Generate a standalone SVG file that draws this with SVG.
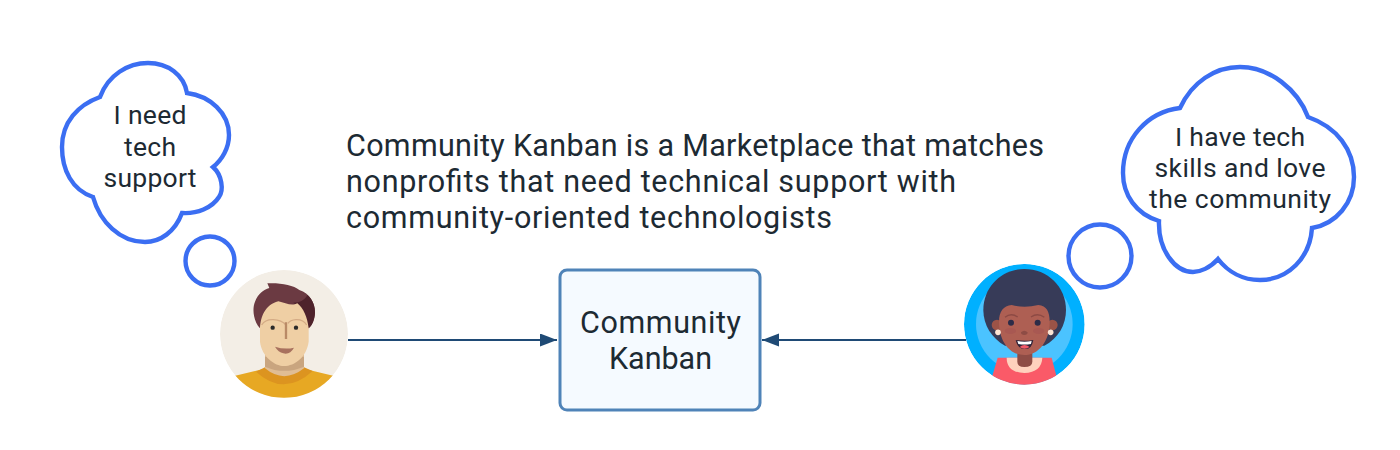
<svg xmlns="http://www.w3.org/2000/svg" width="1400" height="450" viewBox="0 0 1400 450">
<style>
text{font-family:"Roboto","Noto Sans","DejaVu Sans",sans-serif;fill:#1d2a33}
.m{font-size:30.5px}
.c{font-size:26.5px;text-anchor:middle}
.b{font-size:30.5px;text-anchor:middle}
.cloud{fill:#fff;stroke:#3b6ef2;stroke-width:4.4}
.conn{stroke:#1f4a75;stroke-width:2;fill:none}
</style>
<defs>
<marker id="ah" markerUnits="userSpaceOnUse" markerWidth="18" markerHeight="14" refX="17" refY="6.5" orient="auto"><path d="M0,0L17,6.5L0,13Z" fill="#1f4a75"/></marker>
<clipPath id="c1"><circle cx="222" cy="222" r="192"/></clipPath>
<clipPath id="c1b"><rect x="0" y="0" width="450" height="413"/></clipPath>
<clipPath id="c2"><circle cx="208" cy="208" r="181"/></clipPath>
</defs>
<g id="title">
<text class="m" x="346" y="156" textLength="698">Community Kanban is a Marketplace that matches</text>
<text class="m" x="346" y="192" textLength="610">nonprofits that need technical support with</text>
<text class="m" x="346" y="228" textLength="486">community-oriented technologists</text>
</g>
<g id="connectors">
<path class="conn" d="M348,340H557" marker-end="url(#ah)"/>
<path class="conn" d="M966,340H762" marker-end="url(#ah)"/>
</g>
<g id="cloud-left">
<path class="cloud" d="M100,97C108,75 128,63 148,63C168,63 184,75 187,93C210,96 229,113 229,135C229,148 222,160 213,167C222,175 224,190 219,197C212,208 197,214 182,213C175,232 160,242 145,242C120,242 100,222 93,197C72,190 62,170 62,147C62,122 78,105 100,97Z"/>
<circle class="cloud" cx="210" cy="261" r="24.5"/>
<text class="c" x="150" y="124" textLength="73">I need</text>
<text class="c" x="150" y="156" textLength="52">tech</text>
<text class="c" x="150" y="187" textLength="93">support</text>
</g>
<g id="cloud-right">
<path class="cloud" d="M1180,108C1192,82 1215,67 1240,67C1270,67 1298,90 1308,117C1337,127 1354,150 1354,177C1354,203 1336,224 1312,228C1310,258 1288,280 1260,280C1243,280 1228,272 1218,259C1210,268 1200,272 1193,272C1175,272 1158,250 1159,221C1136,214 1123,195 1123,173C1123,138 1148,112 1180,108Z"/>
<circle class="cloud" cx="1100" cy="256" r="31.5"/>
<text class="c" x="1240" y="146" textLength="130">I have tech</text>
<text class="c" x="1240" y="177" textLength="171">skills and love</text>
<text class="c" x="1240" y="208" textLength="182">the community</text>
</g>
<g id="community-kanban">
<rect x="560" y="270" width="200" height="140" rx="7" fill="#f5faff" stroke="#4f83b8" stroke-width="3"/>
<text class="b" x="660.5" y="333" textLength="161">Community</text>
<text class="b" x="660.5" y="369" textLength="103">Kanban</text>
</g>
<g id="person-left" transform="translate(210 260) scale(.3333)">
<g clip-path="url(#c1b)"><g clip-path="url(#c1)">
<circle cx="222" cy="222" r="192" fill="#f3eee6"/>
<path d="M60,351L160,327H285L385,351V420H60Z" fill="#e7a823"/>
<path d="M138,335Q222,412 308,333L282,322H165Z" fill="#dc9420"/>
<path d="M165,280V325Q222,372 282,325V280Z" fill="#e0bd94"/>
<path d="M165,290V320Q222,345 282,320V290Z" fill="#c9a57f"/>
<path d="M150,205C132,185 125,150 135,125C145,100 160,90 178,84L172,70C210,68 250,75 268,90C300,100 316,130 315,160C313,180 308,195 296,205Z" fill="#6b3a42"/>
<path d="M250,128C270,128 285,120 292,105C308,118 316,140 315,160C313,180 308,195 296,205L280,150Z" fill="#4e222b"/>
<path d="M150,205C152,170 165,135 205,124C225,128 245,140 262,130C280,145 292,170 296,205V245C290,290 255,318 222,318C195,318 155,290 150,245Z" fill="#efcfa4"/>
<g fill="none" stroke="#d4ab85" stroke-width="4"><path d="M155,195Q165,178 190,179Q215,180 228,195"/><path d="M290,195Q280,178 258,179Q240,180 234,190"/></g>
<path d="M228,187V237" stroke="#b98a66" stroke-width="7"/>
<circle cx="188" cy="203" r="6.5" fill="#2a2a2a"/><circle cx="258" cy="203" r="6.5" fill="#2a2a2a"/>
<path d="M195,260Q225,270 252,263Q240,285 220,280Q205,277 195,260Z" fill="#a8715e"/>
</g></g>
</g>
<g id="person-right" transform="translate(955 255) scale(.3333)">
<g clip-path="url(#c2)">
<circle cx="208" cy="208" r="181" fill="#00b0ff"/>
<circle cx="208" cy="207" r="145" fill="#4bc3ff"/>
<path d="M150,272C110,250 85,210 85,165C85,95 140,42 208,42C278,42 333,95 333,165C333,210 310,250 268,272Z" fill="#373b58"/>
<circle cx="126" cy="210" r="16" fill="#9c5347"/><circle cx="292" cy="210" r="16" fill="#9c5347"/>
<path d="M110,370L128,308H290L306,370L208,400Z" fill="#fa5a68"/>
<path d="M155,308Q155,352 208,354Q260,352 262,308Z" fill="#ffd1bd"/>
<path d="M187,290V320Q187,336 208,336Q232,336 232,320V290Z" fill="#8e4c45"/>
<path d="M132,200C132,170 145,152 170,150Q208,160 250,150C275,152 284,170 284,200C284,260 250,300 208,300C165,300 132,260 132,200Z" fill="#ae5f53"/>
<ellipse cx="166" cy="228" rx="17" ry="9" fill="#a85852"/><ellipse cx="251" cy="228" rx="17" ry="9" fill="#a85852"/>
<circle cx="168" cy="203" r="9" fill="#2c2c48"/><circle cx="248" cy="203" r="9" fill="#2c2c48"/>
<g fill="none" stroke="#8d4a44" stroke-width="4"><path d="M150,187Q168,172 188,186"/><path d="M228,186Q248,172 268,187"/></g>
<path d="M198,232Q208,222 218,232Q218,240 208,240Q198,240 198,232Z" fill="#8e4c45"/>
<path d="M182,255Q208,260 235,255Q230,285 208,282Q188,282 182,255Z" fill="#2f2238"/>
<path d="M187,258Q208,262 230,258L228,267Q208,270 190,267Z" fill="#fff"/>
<path d="M194,276Q208,264 224,276Q208,287 194,276Z" fill="#f25a68"/>
<circle cx="129" cy="232" r="8.5" fill="#fbe3d3"/><circle cx="287" cy="232" r="8.5" fill="#fbe3d3"/>
</g>
</g>
</svg>
